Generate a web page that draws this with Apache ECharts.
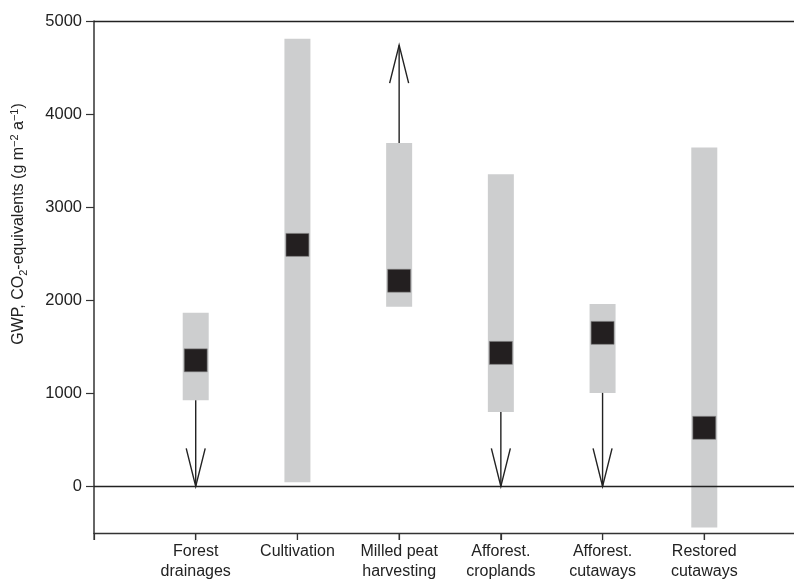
<!DOCTYPE html>
<html>
<head>
<meta charset="utf-8">
<script src="https://cdn.jsdelivr.net/npm/echarts@6/dist/echarts.min.js"></script>
<style>html,body{margin:0;padding:0;background:#fff}#c{width:794px;height:583px}</style>
</head>
<body>
<div id="c"></div>
<script>
const categories = ['Forest\ndrainages','Cultivation','Milled peat\nharvesting','Afforest.\ncroplands','Afforest.\ncutaways','Restored\ncutaways'];
const rangeLow  = [925, 45, 1930, 800, 1005, -440];
const rangeHigh = [1865, 4810, 3690, 3355, 1960, 3640];
const meanValue = [1355, 2595, 2210, 1435, 1650, 630];
const arrowFrom = [925, null, 3690, 800, 1005, null];
const arrowTo   = [0, null, 4740, 0, 0, null];
const yTicks = [0, 1000, 2000, 3000, 4000, 5000];
const xTicks = [0, 1, 2, 3, 4, 5, 6];
const yMin = -500, yMax = 5000;

const barData = categories.map((c, i) => [i + 1, rangeLow[i], rangeHigh[i]]);
const meanData = categories.map((c, i) => [i + 1, meanValue[i]]);
const arrowData = [];
categories.forEach((c, i) => { if (arrowFrom[i] !== null) arrowData.push([i + 1, arrowFrom[i], arrowTo[i]]); });
const tickData = xTicks.map(v => [v, yMin]);

const chart = echarts.init(document.getElementById('c'), null, {renderer: 'canvas'});
const FONT = '"Liberation Sans", Arial, sans-serif';
const AX = '#333';

chart.setOption({
  animation: false,
  backgroundColor: '#fff',
  grid: {left: 94, top: 21, bottom: 50, right: -12, containLabel: false, outerBoundsMode: 'none'},
  xAxis: {
    type: 'value', min: 0, max: 7, interval: 1, position: 'bottom',
    axisLine: {show: true, onZero: false, lineStyle: {color: AX, width: 1.3}},
    axisTick: {show: true, length: 7, lineStyle: {color: AX, width: 1.2}},
    splitLine: {show: false},
    axisLabel: {
      margin: 9, fontSize: 16, lineHeight: 20, color: '#222', fontFamily: FONT,
      formatter: v => categories[Math.round(v) - 1] || ''
    }
  },
  yAxis: {
    type: 'value', min: yMin, max: yMax,
    axisLine: {show: true, onZero: false, lineStyle: {color: AX, width: 1.5}},
    axisTick: {show: true, length: 8, customValues: yTicks, lineStyle: {color: AX, width: 1.2}},
    splitLine: {show: false},
    axisLabel: {margin: 12, fontSize: 16.5, color: '#222', fontFamily: FONT, customValues: yTicks, formatter: v => String(v)}
  },
  graphic: [{
    type: 'text', x: 19, y: 224, rotation: Math.PI / 2,
    style: {
      text: '{n|GWP, CO}{sub|2}{n|-equivalents (g m}{sup|−2}{n| a}{sup|−1}{n|)}',
      align: 'center', verticalAlign: 'middle',
      rich: {
        n: {fontSize: 16, fontFamily: FONT, fill: '#222', lineHeight: 20, verticalAlign: 'middle'},
        sub: {fontSize: 11, fontFamily: FONT, fill: '#222', lineHeight: 12, verticalAlign: 'bottom'},
        sup: {fontSize: 11, fontFamily: FONT, fill: '#222', lineHeight: 12, verticalAlign: 'top'}
      }
    }
  }],
  series: [
    {
      type: 'custom', name: 'range', z: 1, data: barData,
      renderItem: (params, api) => {
        const x = api.value(0), lo = api.value(1), hi = api.value(2);
        const p1 = api.coord([x, hi]), p2 = api.coord([x, lo]);
        const w = 26;
        return {type: 'rect', shape: {x: p1[0] - w / 2, y: p1[1], width: w, height: p2[1] - p1[1]}, style: {fill: '#cdcecf'}};
      }
    },
    {
      type: 'custom', name: 'arrows', z: 2, data: arrowData,
      renderItem: (params, api) => {
        const x = api.value(0), f = api.value(1), t = api.value(2);
        const p0 = api.coord([x, f]), p1 = api.coord([x, t]);
        const dir = p1[1] > p0[1] ? 1 : -1;
        const hl = 38, hw = 9.5;
        const style = {stroke: '#222', lineWidth: 1.4, fill: null};
        return {type: 'group', children: [
          {type: 'line', shape: {x1: p0[0], y1: p0[1], x2: p1[0], y2: p1[1]}, style: style},
          {type: 'polyline', shape: {points: [[p1[0] - hw, p1[1] - dir * hl], [p1[0], p1[1]], [p1[0] + hw, p1[1] - dir * hl]]}, style: style}
        ]};
      }
    },
    {
      type: 'custom', name: 'xticks', z: 6, clip: false, silent: true, data: tickData,
      renderItem: (params, api) => {
        const p = api.coord([api.value(0), api.value(1)]);
        return {type: 'line', shape: {x1: p[0], y1: p[1], x2: p[0], y2: p[1] + 7}, style: {stroke: AX, lineWidth: 1.2}};
      }
    },
    {
      type: 'scatter', name: 'mean', z: 5, data: meanData,
      symbol: 'rect', symbolSize: 23,
      itemStyle: {color: '#231f20', borderColor: '#8a8a8a', borderWidth: 0.6, opacity: 1},
      markLine: {
        silent: true, symbol: 'none', z: 3,
        label: {show: false},
        lineStyle: {color: '#222', width: 1.4, type: 'solid'},
        data: [{yAxis: 0}, {yAxis: yMax}]
      }
    }
  ]
});
</script>
</body>
</html>
